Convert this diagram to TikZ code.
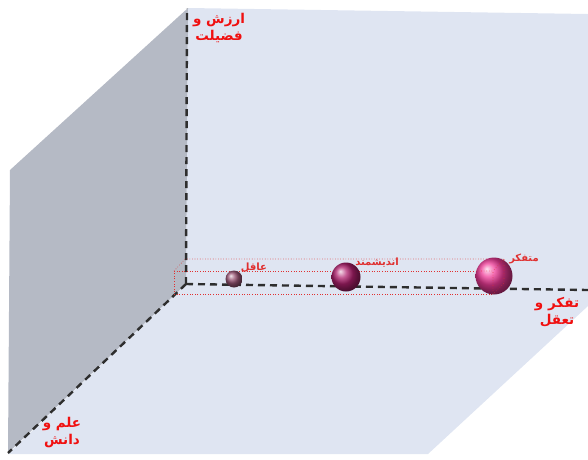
\documentclass[tikz,border=0pt]{standalone}
\usepackage{fontspec}
\newfontfamily\arabicfont[Script=Arabic]{DejaVu Sans}
\TeXXeTstate=1
\definecolor{wallblue}{HTML}{DFE5F2}
\definecolor{wallgray}{HTML}{B5BAC5}
\definecolor{axisgray}{HTML}{2E2E2E}
\definecolor{labred}{HTML}{F01010}
\definecolor{boxred}{HTML}{E03030}
\definecolor{ballA}{HTML}{9A5575}
\definecolor{ballB}{HTML}{B0206E}
\definecolor{ballC}{HTML}{F03A98}
\tikzset{
  axisline/.style={draw=axisgray, line width=2.4pt, dash pattern=on 7pt off 5pt},
  boxline/.style={draw=boxred, line width=0.6pt, dotted},
  axislabel/.style={text=labred, font=\arabicfont\bfseries\fontsize{13.5}{17}\selectfont, align=center, inner sep=0pt},
  balllabel/.style={text=boxred, font=\arabicfont\bfseries\fontsize{10}{11}\selectfont, inner sep=0pt},
  ballnode/.style={circle, inner sep=0pt, shading=ball}
}
\begin{document}
\begin{tikzpicture}[x=1pt,y=-1pt]
\useasboundingbox (0,0) rectangle (588,459);
% walls
\fill[wallblue] (188,8) -- (588,14) -- (588,306) -- (428,454) -- (8,454) -- (186,284) -- cycle;
\fill[wallgray] (188,8) -- (10,170) -- (8,453) -- (186,284) -- cycle;
% axes
\coordinate (O) at (186,284);
\coordinate (Ot) at (187,8);
\coordinate (Or) at (588,290);
\coordinate (Ol) at (8,453);
\draw[axisline] (O) -- (Ot);
\draw[axisline] (O) -- (Or);
\draw[axisline] (O) -- (Ol);
% dotted box
\coordinate (F1) at (174,271);
\coordinate (F2) at (493,271);
\coordinate (F3) at (493,294);
\coordinate (F4) at (174,294);
\coordinate (B1) at (185,259);
\coordinate (B2) at (504,259);
\coordinate (B3) at (504,283);
\draw[boxline] (F1) -- (F2) -- (F3) -- (F4) -- cycle;
\draw[boxline] (F1) -- (B1) -- (B2) -- (F2);
\draw[boxline] (B2) -- (B3) -- (F3);
% spheres
\node[ballnode, ball color=ballA, minimum size=17pt] (s1) at (234,279) {};
\node[ballnode, ball color=ballB, minimum size=29pt] (s2) at (346,277) {};
\node[ballnode, ball color=ballC, minimum size=37pt] (s3) at (494,276) {};
% cube edges visible over big sphere
\draw[boxline, opacity=0.7] (476,271) -- (F2) -- (F3) -- (B3) -- (B2) -- (F2);
% sphere labels
\node[balllabel] (l1) at (254,268) {\beginR عاقل\endR};
\node[balllabel] (l2) at (377,263) {\beginR اندیشمند\endR};
\node[balllabel] (l3) at (524,259) {\beginR متفکر\endR};
% axis labels
\node[axislabel] (a1) at (219,28) {\beginR ارزش و\endR\\\beginR فضیلت\endR};
\node[axislabel] (a2) at (557,312) {\beginR تفکر و\endR\\\beginR تعقل\endR};
\node[axislabel] (a3) at (62,433) {\beginR علم و\endR\\\beginR دانش\endR};
\end{tikzpicture}
\end{document}
